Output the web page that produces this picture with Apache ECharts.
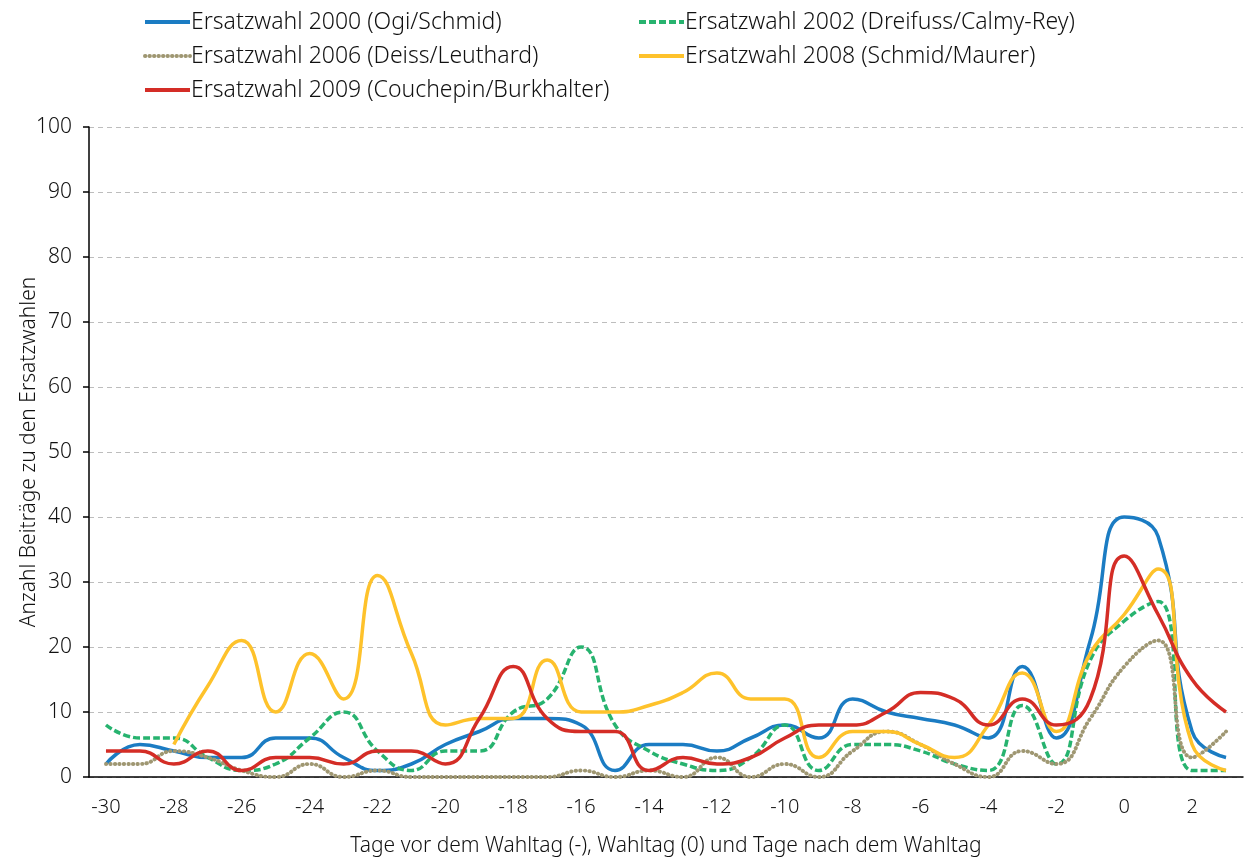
<!DOCTYPE html>
<html>
<head>
<meta charset="utf-8">
<script src="https://cdn.jsdelivr.net/npm/echarts@6.0.0/dist/echarts.min.js"></script>
<style>
  html, body { margin: 0; padding: 0; background: #fff; }
  #chart { width: 1247px; height: 859px; }
</style>
</head>
<body>
<div id="chart"></div>
<script>
// Tage relativ zum Wahltag
var days = [];
for (var d = -30; d <= 3; d++) days.push(String(d));

var names = [
  'Ersatzwahl 2000 (Ogi/Schmid)',
  'Ersatzwahl 2002 (Dreifuss/Calmy-Rey)',
  'Ersatzwahl 2006 (Deiss/Leuthard)',
  'Ersatzwahl 2008 (Schmid/Maurer)',
  'Ersatzwahl 2009 (Couchepin/Burkhalter)'
];

var wahl2000 = [2, 5, 4, 3, 3, 6, 6, 3, 1, 2, 5, 7, 9, 9, 8, 1, 5, 5, 4, 6, 8, 6, 12, 10, 9, 8, 6, 17, 6, 21, 40, 37, 7, 3];
var wahl2002 = [8, 6, 6, 3, 1, 2, 6, 10, 4, 1, 4, 4, 10, 12, 20, 8, 4, 2, 1, 3, 8, 1, 5, 5, 4, 2, 1, 11, 2, 18, 24, 27, 1, 1];
var wahl2006 = [2, 2, 4, 3, 1, 0, 2, 0, 1, 0, 0, 0, 0, 0, 1, 0, 1, 0, 3, 0, 2, 0, 4, 7, 5, 2, 0, 4, 2, 9, 17, 21, 3, 7];
var wahl2008 = [null, null, 5, 14, 21, 10, 19, 12, 31, 19, 8, 9, 9, 18, 10, 10, 11, 13, 16, 12, 12, 3, 7, 7, 5, 3, 8, 16, 7, 19, 25, 32, 5, 1];
var wahl2009 = [4, 4, 2, 4, 1, 3, 3, 2, 4, 4, 2, 9, 17, 9, 7, 7, 1, 3, 2, 3, 6, 8, 8, 10, 13, 12, 8, 12, 8, 12, 34, 25, 15, 10];

var font = 'Noto Sans';

function line(name, data, color, type, cap, width) {
  return {
    name: name,
    type: 'line',
    data: data,
    smooth: 0.5,
    symbol: 'none',
    color: color,
    lineStyle: { width: width || 3.5, color: color, type: type || 'solid', cap: cap || 'butt' }
  };
}

var legendBase = {
  orient: 'vertical',
  top: 4,
  itemWidth: 45,
  itemHeight: 14,
  itemGap: 8,
  itemStyle: { opacity: 0 },
  lineStyle: { width: 4 },
  textStyle: { fontFamily: font, fontWeight: 300, fontSize: 23, color: '#111', lineHeight: 26, padding: [0, 0, 0, -4] }
};

var chart = echarts.init(document.getElementById('chart'));
chart.setOption({
  animation: false,
  textStyle: { fontFamily: font },
  legend: [
    Object.assign({}, legendBase, { left: 138, data: [names[0], names[2], names[4]] }),
    Object.assign({}, legendBase, { left: 632, data: [names[1], names[3]] })
  ],
  grid: { left: 89, right: 4, top: 127, bottom: 82, containLabel: false, outerBoundsMode: 'none' },
  xAxis: {
    type: 'category',
    data: days,
    boundaryGap: true,
    name: 'Tage vor dem Wahltag (-), Wahltag (0) und Tage nach dem Wahltag',
    nameLocation: 'middle',
    nameMoveOverlap: false,
    nameGap: 59,
    nameTextStyle: { fontSize: 21, fontWeight: 300, color: '#111' },
    axisLine: { lineStyle: { color: '#000', width: 1.5 } },
    axisTick: { interval: 0, length: 7, lineStyle: { color: '#000', width: 1.5 } },
    axisLabel: { interval: 1, fontSize: 20, fontWeight: 300, color: '#111', margin: 20 }
  },
  yAxis: {
    type: 'value',
    min: 0,
    max: 100,
    interval: 10,
    name: 'Anzahl Beiträge zu den Ersatzwahlen',
    nameLocation: 'middle',
    nameMoveOverlap: false,
    nameGap: 49,
    nameTextStyle: { fontSize: 21, fontWeight: 300, color: '#111' },
    axisLine: { show: true, lineStyle: { color: '#000', width: 1.5 } },
    axisTick: { show: true, length: 6, lineStyle: { color: '#000', width: 1.5 } },
    axisLabel: { fontSize: 21, fontWeight: 300, color: '#111', margin: 17 },
    splitLine: { lineStyle: { color: '#bdbdbd', type: [5, 4], width: 1.2 } }
  },
  series: [
    line(names[0], wahl2000, '#1b7cc3'),
    line(names[1], wahl2002, '#27b36f', [7, 3]),
    line(names[2], wahl2006, '#9f9772', [0.4, 4.1], 'round', 3.9),
    line(names[3], wahl2008, '#fec22b'),
    line(names[4], wahl2009, '#d42d26')
  ]
});
</script>
</body>
</html>
